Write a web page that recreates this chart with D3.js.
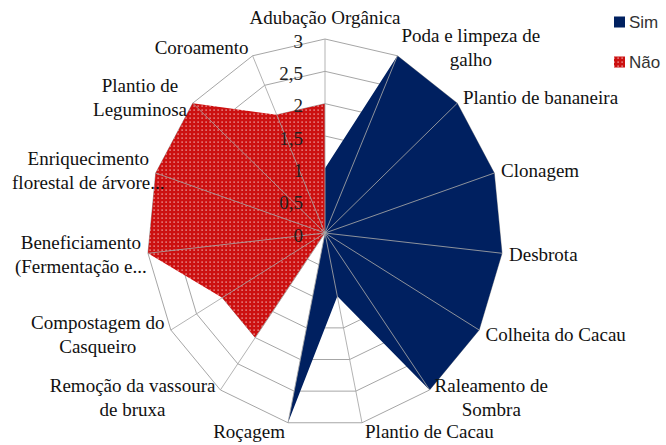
<!DOCTYPE html>
<html>
<head>
<meta charset="utf-8">
<script src="https://cdn.jsdelivr.net/npm/d3@7"></script>
<style>
  body { margin: 0; background: #fff; }
  svg { display: block; }
</style>
</head>
<body>
<svg id="chart" width="666" height="445"></svg>
<script>
const categories = [
    "Adubação Orgânica",
    "Poda e limpeza de\ngalho",
    "Plantio de bananeira",
    "Clonagem",
    "Desbrota",
    "Colheita do Cacau",
    "Raleamento de\nSombra",
    "Plantio de Cacau",
    "Roçagem",
    "Remoção da vassoura\nde bruxa",
    "Compostagem do\nCasqueiro",
    "Beneficiamento\n(Fermentação e...",
    "Enriquecimento\nflorestal de árvore...",
    "Plantio de\nLeguminosa",
    "Coroamento"
];
const simValues = [1, 3, 3, 3, 3, 3, 3, 1, 3, 0, 0, 0, 0, 0, 0];
const naoValues = [2, 0, 0, 0, 0, 0, 0, 0, 0, 2, 2, 3, 3, 3, 2];
const tickValues = [0, 0.5, 1, 1.5, 2, 2.5, 3];
const tickLabels = ["0", "0,5", "1", "1,5", "2", "2,5", "3"];
const seriesNames = ["Sim", "Não"];

const cx = 325, cy = 233;
const rx = 178, ry = 194;   // picture is a bit squeezed sideways
const serif = "'Liberation Serif', 'Times New Roman', serif";

const svg = d3.select("#chart");

const defs = svg.append("defs");
const pat = defs.append("pattern")
    .attr("id", "dots")
    .attr("width", 4).attr("height", 4)
    .attr("patternUnits", "userSpaceOnUse");
pat.append("rect").attr("width", 4).attr("height", 4).attr("fill", "#cc1010");
pat.append("rect").attr("x", 1.5).attr("y", 1.5).attr("width", 1.2).attr("height", 1.2).attr("fill", "#f4d0d0");

const rScale = d3.scaleLinear().domain([0, 3]).range([0, 1]);
const angle = d3.scaleLinear().domain([0, categories.length]).range([0, 2 * Math.PI]);

function pt(i, v){
    let a = angle(i), r = rScale(v);
    return [cx + rx * r * Math.sin(a), cy - ry * r * Math.cos(a)];
}

const gridColor = "#a6a6a6";

// rings
svg.append("g").selectAll("polygon")
    .data(tickValues.filter(t => t > 0))
    .join("polygon")
    .attr("points", t => categories.map((c, i) => pt(i, t).join(",")).join(" "))
    .attr("fill", "none")
    .attr("stroke", gridColor)
    .attr("stroke-width", 1);

// series
const series = [
    {name: seriesNames[0], values: simValues, fill: "#002060"},
    {name: seriesNames[1], values: naoValues, fill: "url(#dots)"}
];
svg.append("g").selectAll("polygon")
    .data(series)
    .join("polygon")
    .attr("points", s => s.values.map((v, i) => pt(i, v).join(",")).join(" "))
    .attr("fill", s => s.fill)
    .attr("stroke", "none");

// spokes
svg.append("g").selectAll("line")
    .data(categories)
    .join("line")
    .attr("x1", cx).attr("y1", cy)
    .attr("x2", (d, i) => pt(i, 3)[0])
    .attr("y2", (d, i) => pt(i, 3)[1])
    .attr("stroke", gridColor)
    .attr("stroke-opacity", 0.85)
    .attr("stroke-width", 1);

// tick labels on the vertical axis
svg.append("g").selectAll("text")
    .data(tickValues)
    .join("text")
    .attr("x", cx - 22)
    .attr("y", t => pt(0, t)[1] + 2)
    .attr("text-anchor", "end")
    .attr("dominant-baseline", "central")
    .attr("font-family", serif)
    .attr("font-size", 19)
    .attr("fill", "#222")
    .text((t, i) => tickLabels[i]);

// category labels
const lh = 24;
const labels = svg.append("g")
    .attr("font-family", serif)
    .attr("font-size", 19)
    .attr("fill", "#111");

categories.forEach((c, i) => {
    let lines = c.split("\n");
    let a = angle(i);
    let s = Math.sin(a), co = Math.cos(a);
    let [vx, vy] = pt(i, 3);
    let g = labels.append("g");
    let texts = lines.map(l => g.append("text").attr("text-anchor", "middle").text(l));
    let widths = texts.map((t, k) => lines[k].endsWith("...") ? 0 : t.node().getComputedTextLength());
    let w = d3.max(widths) || texts[0].node().getComputedTextLength();
    let h = lines.length * lh;
    let px, py;
    if (Math.abs(s) < 0.1) {
        px = vx;
        py = vy - co * (h / 2 + 10);
    } else {
        let pad = 2 + Math.abs(s) * 5;
        px = s > 0 ? vx + pad + w / 2 : vx - pad - w / 2;
        py = vy - co * 9;
    }
    texts.forEach((t, k) => {
        t.attr("x", px)
         .attr("y", py + (k - (lines.length - 1) / 2) * lh)
         .attr("dominant-baseline", "central");
    });
});

// legend
const legend = svg.append("g")
    .attr("font-family", "'Liberation Sans', Arial, sans-serif")
    .attr("font-size", 17)
    .attr("fill", "#333");
const legY = d3.scaleOrdinal().domain(seriesNames).range([22, 62]);
legend.selectAll("rect")
    .data(series)
    .join("rect")
    .attr("x", 614)
    .attr("y", d => legY(d.name) - 5.5)
    .attr("width", 11).attr("height", 11)
    .attr("fill", d => d.fill);
legend.selectAll("text")
    .data(series)
    .join("text")
    .attr("x", 629)
    .attr("y", d => legY(d.name))
    .attr("dominant-baseline", "central")
    .text(d => d.name);
</script>
</body>
</html>
